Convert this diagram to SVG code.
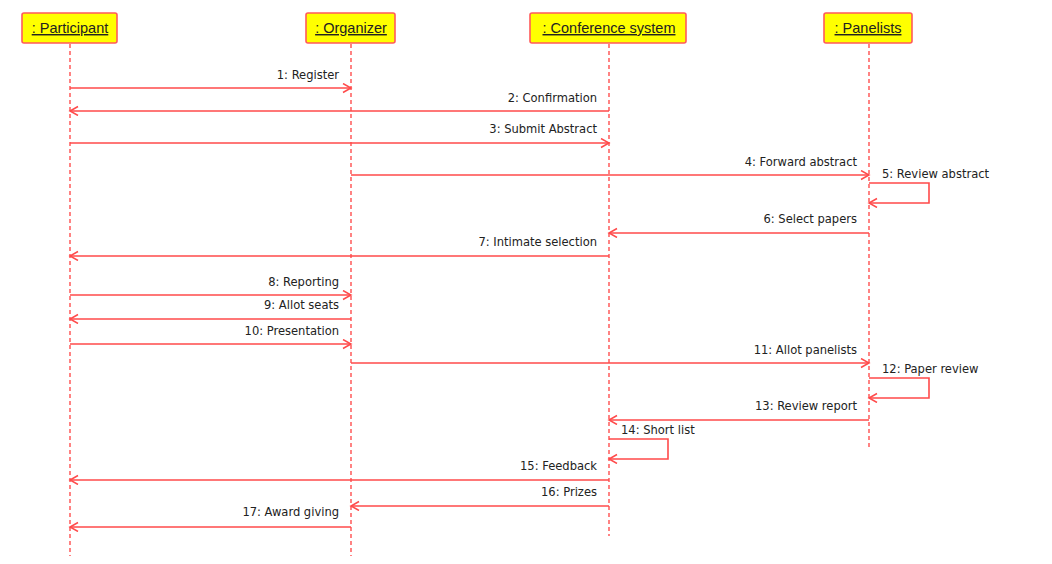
<svg xmlns="http://www.w3.org/2000/svg" width="1052" height="564" viewBox="0 0 1052 564">
<style>
.box{fill:#ffff00;stroke:#ff5a5a;stroke-width:1.6}
.hd{font-family:"Liberation Sans",Arial,sans-serif;font-size:14.5px;fill:#222;text-anchor:middle;text-decoration:underline}
.life{stroke:#ff6464;stroke-width:1.6;stroke-dasharray:4 3;fill:none}
.msg{stroke:#ff4a4a;stroke-width:1.6;fill:none;marker-end:url(#ah)}
.lb{font-family:"DejaVu Sans Condensed","Liberation Sans",sans-serif;font-size:12.8px;fill:#222}
.r{text-anchor:end}
</style>
<defs>
<marker id="ah" markerUnits="userSpaceOnUse" markerWidth="12" markerHeight="12" refX="9" refY="5" orient="auto">
<path d="M1,0.5 L9,5 L1,9.5" fill="none" stroke="#ff4a4a" stroke-width="1.5"/>
</marker>
</defs>
<rect width="1052" height="564" fill="#fff"/>
<g id="participant">
<rect class="box" x="22" y="13" width="95" height="30" rx="2"/>
<text class="hd" x="70" y="33">: Participant</text>
<line class="life" x1="70" y1="44" x2="70" y2="556"/>
</g>
<g id="organizer">
<rect class="box" x="306" y="13" width="89" height="30" rx="2"/>
<text class="hd" x="351" y="33">: Organizer</text>
<line class="life" x1="351" y1="44" x2="351" y2="556"/>
</g>
<g id="conference">
<rect class="box" x="530" y="13" width="156" height="30" rx="2"/>
<text class="hd" x="609" y="33">: Conference system</text>
<line class="life" x1="609" y1="44" x2="609" y2="536"/>
</g>
<g id="panelists">
<rect class="box" x="824" y="13" width="88" height="30" rx="2"/>
<text class="hd" x="868" y="33">: Panelists</text>
<line class="life" x1="869" y1="44" x2="869" y2="450"/>
</g>
<g id="connectors">
<line class="msg" x1="70" y1="88" x2="351" y2="88"/>
<line class="msg" x1="609" y1="111" x2="70" y2="111"/>
<line class="msg" x1="70" y1="143" x2="609" y2="143"/>
<line class="msg" x1="351" y1="175" x2="869" y2="175"/>
<path class="msg" d="M869,183 H929 V203 H869"/>
<line class="msg" x1="869" y1="233" x2="609" y2="233"/>
<line class="msg" x1="609" y1="256" x2="70" y2="256"/>
<line class="msg" x1="70" y1="295" x2="351" y2="295"/>
<line class="msg" x1="351" y1="319" x2="70" y2="319"/>
<line class="msg" x1="70" y1="344" x2="351" y2="344"/>
<line class="msg" x1="351" y1="363" x2="869" y2="363"/>
<path class="msg" d="M869,378 H929 V398 H869"/>
<line class="msg" x1="869" y1="420" x2="609" y2="420"/>
<path class="msg" d="M609,439 H668 V459 H609"/>
<line class="msg" x1="609" y1="480" x2="70" y2="480"/>
<line class="msg" x1="609" y1="506" x2="351" y2="506"/>
<line class="msg" x1="351" y1="527" x2="70" y2="527"/>
</g>
<g id="labels">
<text class="lb r" x="339" y="79">1: Register</text>
<text class="lb r" x="597" y="102">2: Confirmation</text>
<text class="lb r" x="597" y="133">3: Submit Abstract</text>
<text class="lb r" x="857" y="166">4: Forward abstract</text>
<text class="lb" x="882" y="178">5: Review abstract</text>
<text class="lb r" x="857" y="223">6: Select papers</text>
<text class="lb r" x="597" y="246">7: Intimate selection</text>
<text class="lb r" x="339" y="286">8: Reporting</text>
<text class="lb r" x="339" y="309">9: Allot seats</text>
<text class="lb r" x="339" y="335">10: Presentation</text>
<text class="lb r" x="857" y="354">11: Allot panelists</text>
<text class="lb" x="882" y="373">12: Paper review</text>
<text class="lb r" x="857" y="410">13: Review report</text>
<text class="lb" x="621" y="434">14: Short list</text>
<text class="lb r" x="597" y="470">15: Feedback</text>
<text class="lb r" x="597" y="496">16: Prizes</text>
<text class="lb r" x="339" y="516">17: Award giving</text>
</g>
</svg>
